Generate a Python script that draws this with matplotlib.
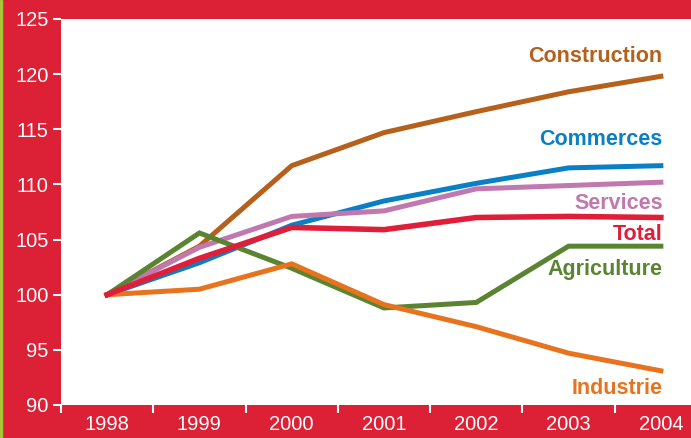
import matplotlib
matplotlib.use("Agg")
import matplotlib.pyplot as plt
import matplotlib.patches as mpatches

# données (indice base 100 en 1998)
years = ["1998", "1999", "2000", "2001", "2002", "2003", "2004"]
construction = [100, 104.4, 111.7, 114.7, 116.6, 118.4, 119.8]
commerces = [100, 102.9, 106.3, 108.5, 110.1, 111.5, 111.7]
services = [100, 104.3, 107.1, 107.6, 109.6, 109.9, 110.2]
agriculture = [100, 105.6, 102.4, 98.8, 99.3, 104.4, 104.4]
industrie = [100, 100.5, 102.8, 99.1, 97.1, 94.7, 93.1]
total = [100, 103.3, 106.1, 105.9, 107.0, 107.1, 107.0]

bg = "#dc2035"

fig = plt.figure(figsize=(6.91, 4.38), dpi=100, facecolor=bg)
ax = fig.add_axes([61 / 691, 33 / 438, 646 / 691, 386 / 438])
ax.set_facecolor("white")

x = list(range(len(years)))
series = [
    ("Construction", construction, "#b5601b", 3.6, 121.6),
    ("Commerces", commerces, "#0a7fc4", 3.6, 114.1),
    ("Services", services, "#c078ae", 3.6, 108.3),
    ("Agriculture", agriculture, "#5a8431", 3.6, 102.3),
    ("Industrie", industrie, "#e8731f", 3.6, 91.5),
    ("Total", total, "#df1f3a", 4.0, 105.5),
]
for name, vals, col, lw, ly in series:
    ax.plot(x, vals, color=col, linewidth=lw, solid_joinstyle="miter")
    ax.text(6.02, ly, name, color=col, fontsize=15.5, fontweight="bold",
            family="Liberation Sans", ha="right", va="center")

ax.set_xlim(-0.5, 6.5)
ax.set_ylim(90, 125)
ax.set_yticks(range(90, 126, 5))
ax.set_xticks(x)
ax.set_xticklabels(years)
ax.set_xticks([i - 0.5 for i in range(8)], minor=True)

for s in ax.spines.values():
    s.set_visible(False)
ax.tick_params(axis="y", colors="white", length=6, width=1.5, labelsize=14.5, pad=3)
ax.tick_params(axis="x", which="major", length=0, colors="white", labelsize=14.5, pad=7)
ax.tick_params(axis="x", which="minor", length=6, width=1.5, colors="white")
for lab in ax.get_xticklabels() + ax.get_yticklabels():
    lab.set_family("Liberation Sans")

# fine bordure vert-jaune à gauche
fig.patches.append(mpatches.Rectangle((0, 0), 2 / 691, 1, transform=fig.transFigure,
                                      color="#a9c53a", zorder=0))

fig.savefig("out.png", dpi=100, facecolor=bg)
